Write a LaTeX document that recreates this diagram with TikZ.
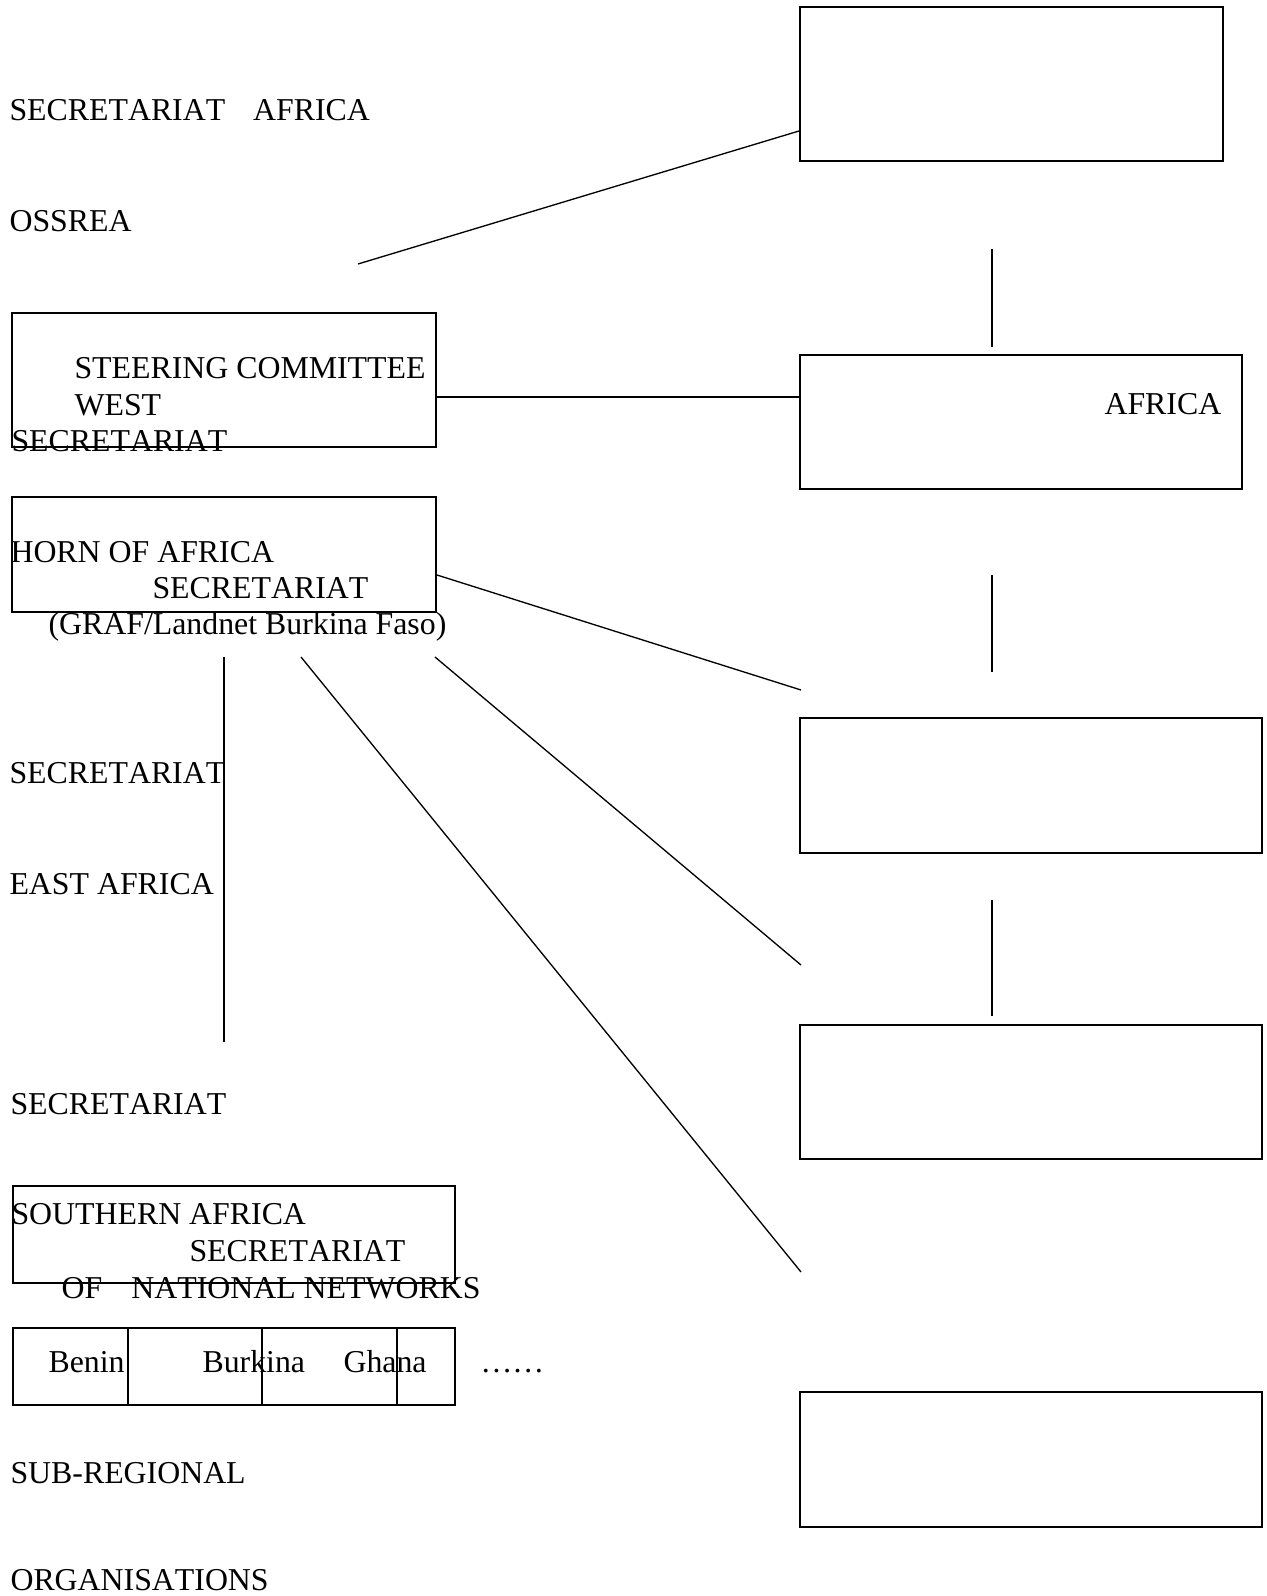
\documentclass[tikz,border=0pt]{standalone}
\usepackage{fontspec}
\setmainfont[Kerning=Off]{Liberation Serif}
\usetikzlibrary{calc}

\tikzset{
  orgbox/.style 2 args={shape=rectangle,draw,line width=0.75pt,inner sep=0pt,minimum width=#1*0.377pt,minimum height=#2*0.377pt},
  orglabel/.style={anchor=base west,inner sep=0pt,font=\fontsize{12}{14}\selectfont},
  orglink/.style={line width=0.5pt}
}

\begin{document}
\begin{tikzpicture}[x=0.377pt,y=-0.377pt]
    \useasboundingbox (0,0) rectangle (1266,1596);
    % right column
    \node[orgbox={423}{154}] (ossrea) at (1011.5,84) {};
    \node[orgbox={442}{134}] (africa) at (1021,422) {};
    \node[orgbox={462}{135}] (rightc) at (1031,785.5) {};
    \node[orgbox={462}{134}] (rightd) at (1031,1092) {};
    \node[orgbox={462}{135}] (righte) at (1031,1459.5) {};
    % left column
    \node[orgbox={424}{134}] (steer) at (224,380) {};
    \node[orgbox={424}{115}] (horn) at (224,554.5) {};
    \node[orgbox={442}{97}] (south) at (234,1234.5) {};
    \node[orgbox={115}{77}] (benin) at (70.5,1366.5) {};
    \node[orgbox={134}{77}] (burkina) at (195,1366.5) {};
    \node[orgbox={135}{77}] (ghana) at (329.5,1366.5) {};
    \node[orgbox={58}{77}] (more) at (426,1366.5) {};
    % loose ends
    \coordinate (ossreafoot) at (358,264);
    \coordinate (vtopa) at (992,249);
    \coordinate (vbota) at (992,347);
    \coordinate (vtopb) at (992,575);
    \coordinate (vbotb) at (992,672);
    \coordinate (vtopc) at (992,900);
    \coordinate (vbotc) at (992,1016);
    \coordinate (hornend) at (801,690);
    \coordinate (fanstarta) at (435,657);
    \coordinate (fanenda) at (801,965);
    \coordinate (fanstartb) at (301,657);
    \coordinate (fanendb) at (801,1272);
    \coordinate (eastup) at (224,657);
    \coordinate (eastdown) at (224,1042);
    \draw[orglink] (ossreafoot) to ($(ossrea.south west)+(0,-31)$);
    \draw[orglink] ($(steer.east)+(0,17)$) to ($(africa.west)+(0,-25)$);
    \draw[orglink] ($(horn.east)+(0,20.5)$) to (hornend);
    \draw[orglink] (vtopa) to (vbota);
    \draw[orglink] (vtopb) to (vbotb);
    \draw[orglink] (vtopc) to (vbotc);
    \draw[orglink] (fanstarta) to (fanenda);
    \draw[orglink] (fanstartb) to (fanendb);
    \draw[orglink] (eastup) to (eastdown);
    % texts
    \node[orglabel] (secafrica) at (9,121) {SECRETARIAT\hspace{10.5pt}AFRICA};
    \node[orglabel] (ossreatext) at (9,232) {OSSREA};
    \node[orglabel] (steertext) at (74,378) {STEERING COMMITTEE};
    \node[orglabel] (westtext) at (74,415) {WEST};
    \node[orglabel] (westsec) at (11,451) {SECRETARIAT};
    \node[orglabel] (africatext) at (1104,414) {AFRICA};
    \node[orglabel] (horntext) at (10,562) {HORN OF AFRICA};
    \node[orglabel] (hornsec) at (152,598) {SECRETARIAT};
    \node[orglabel] (graftext) at (48,634) {(GRAF/Landnet Burkina Faso)};
    \node[orglabel] (eastsec) at (9,783) {SECRETARIAT};
    \node[orglabel] (easttext) at (9,894) {EAST AFRICA};
    \node[orglabel] (southsec) at (10,1114) {SECRETARIAT};
    \node[orglabel] (southtext) at (11,1224) {SOUTHERN AFRICA};
    \node[orglabel] (natsec) at (189,1261) {SECRETARIAT};
    \node[orglabel] (nattext) at (61,1298) {OF\hspace{11pt}NATIONAL NETWORKS};
    \node[orglabel] (benintext) at (48,1372) {Benin};
    \node[orglabel] (burkinatext) at (202,1372) {Burkina};
    \node[orglabel] (ghanatext) at (343,1372) {Ghana};
    \node[orglabel] (moretext) at (480,1372) {……};
    \node[orglabel] (subtext) at (10,1483) {SUB-REGIONAL};
    \node[orglabel] (orgtext) at (10,1590) {ORGANISATIONS};
\end{tikzpicture}
\end{document}
